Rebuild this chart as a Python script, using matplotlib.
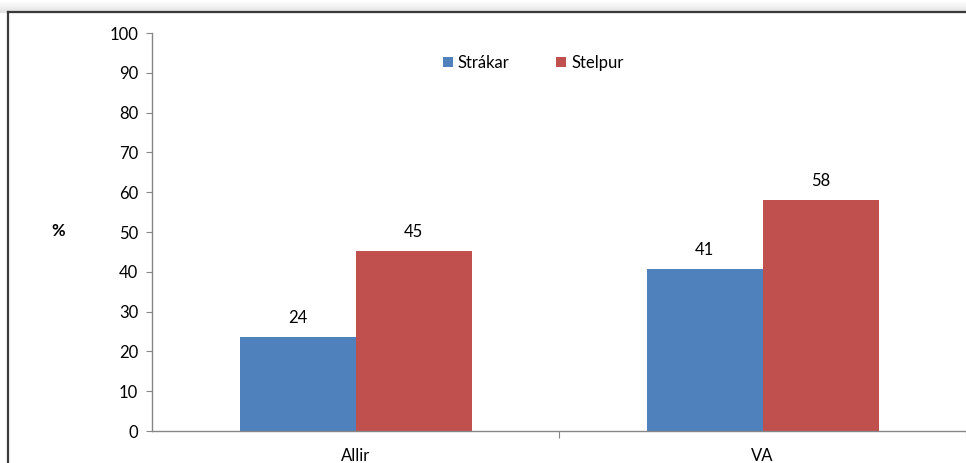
import matplotlib
matplotlib.use("Agg")
import matplotlib.pyplot as plt
from matplotlib.lines import Line2D
import numpy as np

categories = ["Allir", "VA"]
series_names = ["Strákar", "Stelpur"]
strakar = [24, 41]
stelpur = [45, 58]
bar_heights_strakar = [23.7, 40.8]
bar_heights_stelpur = [45.2, 58.0]
yticks = list(range(0, 101, 10))

plt.rcParams['font.family'] = ['Lato', 'DejaVu Sans']

W, H = 966, 463
FS = 12
fig = plt.figure(figsize=(W / 100, H / 100), dpi=100)
fig.patch.set_facecolor('white')

# frame with top shadow
for i in range(12):
    a = 0.02 + 0.05 * i
    fig.add_artist(Line2D([0, 1], [1 - (i + 0.5) / H] * 2, transform=fig.transFigure,
                          color='black', alpha=a * 0.15, lw=1.0))
fig.add_artist(Line2D([8 / W, 8 / W], [0, 1 - 12 / H], transform=fig.transFigure,
                      color='#3a3a3a', lw=1.6))
fig.add_artist(Line2D([8 / W, 1], [1 - 12 / H, 1 - 12 / H], transform=fig.transFigure,
                      color='#3a3a3a', lw=1.6))

ax = fig.add_axes([152 / W, 1 - 431 / H, (966 - 152) / W, (431 - 33) / H])
x = np.arange(len(categories))
bw = 116 / 407
blue = '#4F81BD'
red = '#C0504D'
b1 = ax.bar(x - bw / 2, bar_heights_strakar, width=bw, color=blue, label=series_names[0])
b2 = ax.bar(x + bw / 2, bar_heights_stelpur, width=bw, color=red, label=series_names[1])

for xi, h, v in zip(x - bw / 2, bar_heights_strakar, strakar):
    ax.annotate(str(v), (xi, h), xytext=(0, 8), textcoords='offset points',
                ha='center', va='bottom', fontsize=FS, color='black')
for xi, h, v in zip(x + bw / 2, bar_heights_stelpur, stelpur):
    ax.annotate(str(v), (xi, h), xytext=(0, 8), textcoords='offset points',
                ha='center', va='bottom', fontsize=FS, color='black')

ax.set_xlim(-0.5, 1.5)
ax.set_ylim(0, 100)
ax.set_yticks(yticks)
ax.set_yticklabels([str(t) for t in yticks], fontsize=FS)
for s in ['top', 'right']:
    ax.spines[s].set_visible(False)
for s in ['left', 'bottom']:
    ax.spines[s].set_color('#868686')
    ax.spines[s].set_linewidth(1.0)
ax.tick_params(axis='y', direction='out', length=4, color='#868686', pad=6, labelsize=FS)
ax.set_xticks([0.5, 1.5])
ax.set_xticks(x, minor=True)
ax.set_xticklabels([], minor=False)
ax.set_xticklabels(categories, minor=True, fontsize=FS)
ax.tick_params(axis='x', which='major', direction='out', length=5, color='#868686')
ax.tick_params(axis='x', which='minor', length=0, pad=12, labelsize=FS)

fig.text(58 / W, 1 - 231 / H, '%', ha='center', va='center', fontsize=FS, fontweight='bold')

fig.legend(handles=[b1, b2], loc='center', bbox_to_anchor=(533 / W, 1 - 63 / H), ncol=2,
           frameon=False, fontsize=FS, handlelength=0.6, handleheight=0.6,
           handletextpad=0.3, columnspacing=2.8)

fig.savefig('out.png', dpi=100)
